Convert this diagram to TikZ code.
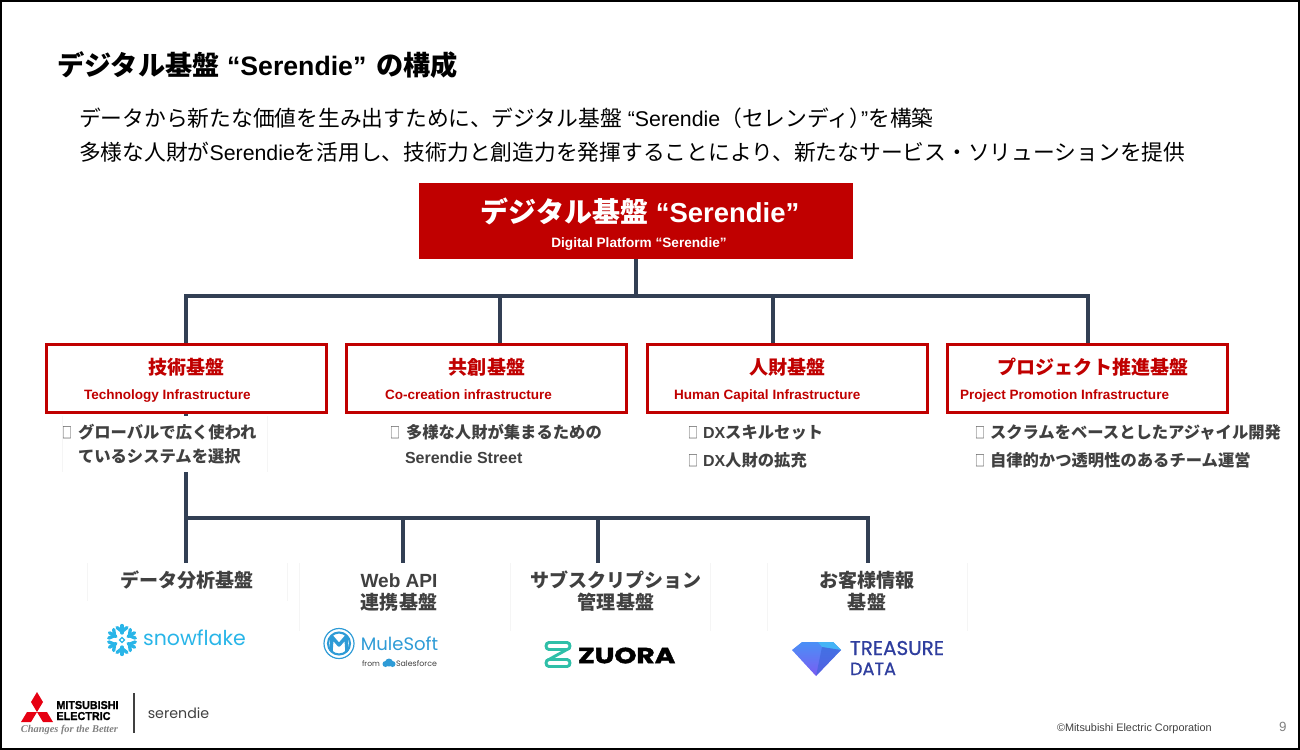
\documentclass[tikz,border=0pt]{standalone}
\usepackage{fontspec}
\setmainfont{Liberation Sans}
\newfontfamily\cjk[Scale=1.02]{Noto Sans CJK JP}
\newfontfamily\logofont[BoldFeatures={FakeBold=1.6}]{Poppins}
\newfontfamily\logomed[FakeBold=0.7]{Poppins}
\newfontfamily\melfont[BoldFeatures={FakeBold=1.2}]{Liberation Sans}
\newfontfamily\serifit{Liberation Serif}
\newcommand{\J}[1]{{\cjk #1}}
\newcommand{\fs}[1]{\fontsize{#1}{#1}\selectfont}
\newcommand{\tofuglyph}{\scalebox{0.72}[1.12]{\J{□}}}
\definecolor{serred}{HTML}{C00000}
\definecolor{busblue}{HTML}{323F54}
\definecolor{txtgray}{HTML}{404040}
\definecolor{faint}{HTML}{F5F5F5}
\definecolor{snowblue}{HTML}{29B5E8}
\definecolor{muleblue}{HTML}{2E9BD6}
\definecolor{zteal}{HTML}{2FBFA8}
\definecolor{tdblue}{HTML}{2F3E9E}
\definecolor{tdtop}{HTML}{4A90F6}
\definecolor{tdbot}{HTML}{7A5CF2}
\definecolor{tdcyan}{HTML}{45B4F6}
\definecolor{tddark}{HTML}{3A62D8}
\definecolor{melred}{HTML}{E60012}
\tikzset{
 x=0.75pt,y=-0.75pt,
 txt/.style={inner sep=0pt,outer sep=0pt},
 lft/.style={txt,anchor=base west},
 ctr/.style={txt,anchor=base},
 pillar/.style={draw=serred,line width=2.25pt,fill=white,minimum width=210pt,minimum height=51pt,inner sep=0pt},
 bus/.style={draw=busblue,line width=3.7pt,line join=miter},
 boxtitle/.style={ctr,text=serred,font=\fs{14}\bfseries},
 boxsub/.style={lft,text=serred,font=\fs{10.15}\bfseries},
 bullet/.style={lft,text=txtgray,font=\fs{12}\bfseries},
 tofu/.style={lft,text=txtgray,font=\fs{10}},
 leaf/.style={ctr,text=txtgray,font=\fs{14}\bfseries},
 hair/.style={draw=faint,line width=0.6pt},
}
\begin{document}
\begin{tikzpicture}
\useasboundingbox (0,0) rectangle (1300,750);
\draw[black,line width=1.5pt] (1,1) rectangle (1299,749);

% title and intro
\node[lft,font=\fs{20}\bfseries] (title) at (57,75) {\J{デジタル基盤} “Serendie” \hspace{2pt}\J{の構成}};
\node[lft,font=\fs{16}] (introa) at (79,126) {\J{データから新たな価値を生み出すために、デジタル基盤} “Serendie\J{（セレンディ）}\hspace{-7.5pt}”\J{を構築}};
\node[lft,font=\fs{16}] (introb) at (79,160) {\J{多様な人財が}Serendie\J{を活用し、技術力と創造力を発揮することにより、新たなサービス・ソリューションを提供}};

% main box
\node[fill=serred,minimum width=325.5pt,minimum height=57pt,inner sep=0pt,outer sep=0pt] (top) at (636,221) {};
\node[ctr,text=white,font=\fs{20.6}\bfseries] (toptitle) at (640,222) {\J{デジタル基盤} “Serendie”};
\node[ctr,text=white,font=\fs{10.2}\bfseries] (topsub) at (639,247) {Digital Platform “Serendie”};

% pillars
\node[pillar] (tech) at (186.5,378.5) {};
\node[pillar] (cocr) at (486.5,378.5) {};
\node[pillar] (human) at (787.5,378.5) {};
\node[pillar] (proj) at (1087.5,378.5) {};

% connectors, first level
\coordinate (busa) at (636,296);
\coordinate (dropa) at (186,296);
\coordinate (dropb) at (500,296);
\coordinate (dropc) at (773,296);
\coordinate (dropd) at (1088,296);
\draw[bus] (top.south) -- (busa);
\draw[bus] (dropa |- tech.north) -- (dropa) -- (dropd) -- (dropd |- proj.north);
\draw[bus] (dropb) -- (dropb |- cocr.north);
\draw[bus] (dropc) -- (dropc |- human.north);

% connectors, second level
\coordinate (busb) at (186,518);
\coordinate (leafa) at (186,563);
\coordinate (drope) at (403,518);
\coordinate (dropf) at (598,518);
\coordinate (dropg) at (868,518);
\draw[bus] (busb |- tech.south) -- (leafa);
\draw[bus] (busb) -- (dropg) -- (dropg |- leafa);
\draw[bus] (drope) -- (drope |- leafa);
\draw[bus] (dropf) -- (dropf |- leafa);

% white panel of the first bullet list hides part of the connector
\fill[white] (62,416) rectangle (267,472);
\draw[hair] (62,416) -- (62,472) (267,416) -- (267,472);

% pillar texts
\node[boxtitle] (techt) at (186.5,374) {\J{技術基盤}};
\node[boxsub] (techs) at (84,399) {Technology Infrastructure};
\node[boxtitle] (cocrt) at (487,374) {\J{共創基盤}};
\node[boxsub] (cocrs) at (385,399) {Co-creation infrastructure};
\node[boxtitle] (humant) at (787.5,374) {\J{人財基盤}};
\node[boxsub] (humans) at (674,399) {Human Capital Infrastructure};
\node[boxtitle] (projt) at (1093,374) {\J{プロジェクト推進基盤}};
\node[boxsub] (projs) at (960,399) {Project Promotion Infrastructure};

% bullets
\node[tofu] (ba0) at (62,438) {\tofuglyph};
\node[bullet] (ba1) at (78,438) {\J{グローバルで広く使われ}};
\node[bullet] (ba2) at (78,462) {\J{ているシステムを選択}};
\node[tofu] (bb0) at (390,438) {\tofuglyph};
\node[bullet] (bb1) at (406,438) {\J{多様な人財が集まるための}};
\node[bullet] (bb2) at (405,463) {Serendie Street};
\node[tofu] (bc0) at (688,438) {\tofuglyph};
\node[bullet] (bc1) at (703,438) {DX\J{スキルセット}};
\node[tofu] (bc2) at (688,466) {\tofuglyph};
\node[bullet] (bc3) at (703,466) {DX\J{人財の拡充}};
\node[tofu] (bd0) at (975,438) {\tofuglyph};
\node[bullet] (bd1) at (990,438) {\J{スクラムをベースとしたアジャイル開発}};
\node[tofu] (bd2) at (975,466) {\tofuglyph};
\node[bullet] (bd3) at (990,466) {\J{自律的かつ透明性のあるチーム運営}};

% faint panel edges
\draw[hair] (87,563) -- (87,601) (287,563) -- (287,601) (299,563) -- (299,631)
 (510,563) -- (510,631) (710,563) -- (710,631) (767,563) -- (767,631) (967,563) -- (967,631);

% leaf labels
\node[leaf] (la) at (187,587) {\J{データ分析基盤}};
\node[leaf,font=\fs{14.3}\bfseries] (lb1) at (399,587) {Web API};
\node[leaf] (lb2) at (399,609) {\J{連携基盤}};
\node[leaf] (lc1) at (616,587) {\J{サブスクリプション}};
\node[leaf] (lc2) at (616,609) {\J{管理基盤}};
\node[leaf] (ld1) at (867,587) {\J{お客様情報}};
\node[leaf] (ld2) at (867,609) {\J{基盤}};

% snowflake logo
\begin{scope}[shift={(122,640)},snowblue,line width=2.5pt,line cap=round]
 \foreach \a in {30,90,150,210,270,330}{
  \begin{scope}[rotate=\a]
   \draw (7,0) -- (14.5,0);
   \draw (12.5,-5) -- (8.5,0) -- (12.5,5);
  \end{scope}}
 \draw[line width=1pt] (0,-2.5) -- (2.5,0) -- (0,2.5) -- (-2.5,0) -- cycle;
\end{scope}
\node[txt,anchor=center,text=snowblue] (snowt) at (194.5,638) {\resizebox{77pt}{!}{\logofont snowflake}};

% mulesoft logo
\draw[muleblue,line width=0.9pt] (339,643.5) circle [radius=15];
\draw[muleblue,line width=1.6pt] (339,643.5) circle [radius=11];
\draw[muleblue,line width=2.6pt,line join=round] (331,651) -- (332,637) -- (339,645) -- (346,637) -- (347,651);
\node[txt,anchor=center,text=muleblue] (mulet) at (399.5,643.5) {\resizebox{58pt}{!}{\logofont MuleSoft}};
\node[lft,text=txtgray] (mulef) at (362,666) {\resizebox{13.5pt}{!}{\logofont from}};
\fill[muleblue] (389,662.5) circle [radius=4] (385.5,664) circle [radius=3] (392.5,664) circle [radius=3];
\node[lft,text=txtgray] (mules) at (396,666) {\resizebox{30.75pt}{!}{\logofont Salesforce}};

% zuora logo
\begin{scope}[zteal,line width=2.2pt,line join=round,line cap=round]
 \draw (549,642.5) -- (567,642.5) .. controls (571,642.5) and (571,649.5) .. (567,649.5) -- (549,649.5) .. controls (545,649.5) and (545,642.5) .. (549,642.5);
 \draw (567,649.5) -- (548,660);
 \draw (549,659.5) -- (567,659.5) .. controls (571,659.5) and (571,666.5) .. (567,666.5) -- (549,666.5) .. controls (545,666.5) and (545,659.5) .. (549,659.5);
\end{scope}
\node[txt,anchor=west] (zuorat) at (578,655.5) {\resizebox{73pt}{11.7pt}{\logofont\bfseries ZUORA}};

% treasure data logo
\shade[top color=tdtop,bottom color=tdbot] (792,650) -- (802,642) -- (833,642) -- (841,650) -- (816,676) -- cycle;
\fill[tdcyan] (818,642) -- (833,642) -- (841,650) -- (822,647) -- cycle;
\fill[tddark,opacity=.6] (822,647) -- (841,650) -- (816,676) -- cycle;
\node[lft,text=tdblue] (tda) at (850,655) {\resizebox{70.5pt}{!}{\logomed TREASURE}};
\node[lft,text=tdblue] (tdb) at (850,675) {\resizebox{34.5pt}{!}{\logomed DATA}};

% mitsubishi electric logo
\fill[melred] (37,692) -- (43,702) -- (37,712) -- (31,702) -- cycle;
\fill[melred] (37,712) -- (27,712) -- (21,722) -- (31,722) -- cycle;
\fill[melred] (37,712) -- (47,712) -- (53,722) -- (43,722) -- cycle;
\node[lft] (mela) at (56.5,709) {\resizebox{46.5pt}{6pt}{\melfont\bfseries MITSUBISHI}};
\node[lft] (melb) at (56.5,720) {\resizebox{40.5pt}{6pt}{\melfont\bfseries ELECTRIC}};
\node[lft,text=gray] (melc) at (21,732) {\resizebox{72.75pt}{!}{\serifit\itshape\bfseries Changes for the Better}};
\draw[txtgray,line width=0.8pt] (134,693) -- (134,733);
\node[txt,anchor=center,text=txtgray] (serlogo) at (178.5,713) {\resizebox{46pt}{!}{\logofont serendie}};

% footer
\node[lft,text=txtgray,font=\fs{8.15}] (copy) at (1057,731) {©Mitsubishi Electric Corporation};
\node[lft,text=gray,font=\fs{10}] (pageno) at (1279,731) {9};
\end{tikzpicture}
\end{document}
